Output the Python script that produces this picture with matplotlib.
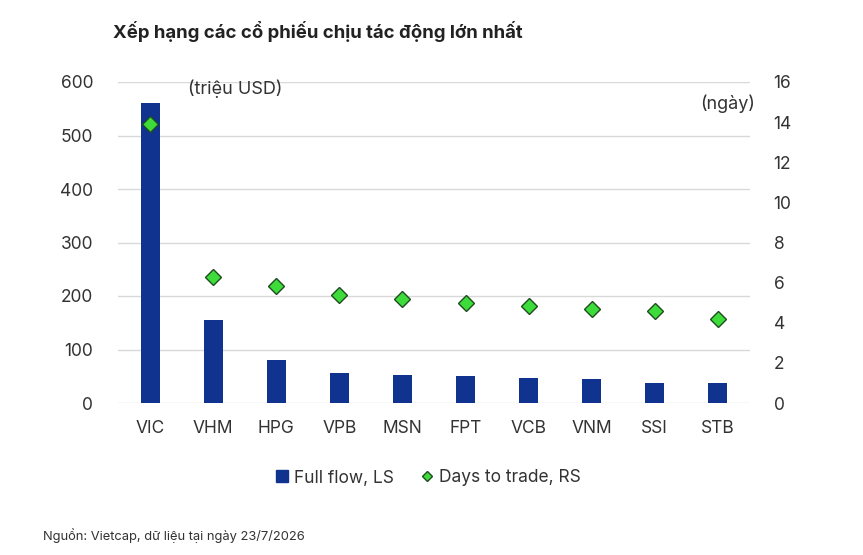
import matplotlib
matplotlib.use("Agg")
import matplotlib.pyplot as plt
from matplotlib.lines import Line2D

plt.rcParams['font.family'] = ['Inter', 'DejaVu Sans']

tickers = ["VIC", "VHM", "HPG", "VPB", "MSN", "FPT", "VCB", "VNM", "SSI", "STB"]
full_flow = [561, 156, 81, 56, 53, 51, 46, 45, 38, 38]
days_to_trade = [13.9, 6.28, 5.82, 5.4, 5.18, 5.0, 4.82, 4.68, 4.6, 4.18]
left_ticks = [0, 100, 200, 300, 400, 500, 600]
right_ticks = [0, 2, 4, 6, 8, 10, 12, 14, 16]

bar_color = "#0f338f"
dia_color = "#3ddc3a"
dia_edge = "#1f4d1f"
txt = "#333333"

fig = plt.figure(figsize=(8.63, 5.55), dpi=100)
ax = fig.add_axes([118/863, 1-403/555, (750-118)/863, (403-82)/555])
ax2 = ax.twinx()

x = list(range(len(tickers)))
ax.bar(x, full_flow, width=0.3, color=bar_color, zorder=2)
ax2.plot(x, days_to_trade, linestyle='none', marker='D', markersize=8.5,
         markerfacecolor=dia_color, markeredgecolor=dia_edge, markeredgewidth=1.0, zorder=3)

ax.set_xlim(-0.51, 9.51)
ax.set_ylim(0, 600)
ax2.set_ylim(0, 16)
ax.set_yticks(left_ticks)
ax2.set_yticks(right_ticks)
ax.set_xticks(x)
ax.set_xticklabels(tickers)
ax.grid(axis='y', color='#d9d9d9', linewidth=1.0, zorder=0)
ax.set_axisbelow(True)
for a in (ax, ax2):
    for s in a.spines.values():
        s.set_visible(False)
    a.tick_params(length=0, labelsize=12.5, colors=txt)
ax.tick_params(axis='y', pad=18)
ax.tick_params(axis='x', pad=12)
ax2.tick_params(axis='y', pad=17)

fig.text(113/863, 1-31/555, "Xếp hạng các cổ phiếu chịu tác động lớn nhất",
         fontsize=13.4, fontweight='bold', color='#222222', va='center', ha='left')
fig.text(188/863, 1-89/555, "(triệu USD)", fontsize=13, color=txt, va='center', ha='left')
fig.text(755/863, 1-104/555, "(ngày)", fontsize=13, color=txt, va='center', ha='right')
fig.text(43/863, 1-536/555, "Nguồn: Vietcap, dữ liệu tại ngày 23/7/2026",
         fontsize=9.3, color=txt, va='center', ha='left')

handles = [Line2D([0], [0], marker='s', linestyle='none', markersize=9,
                  markerfacecolor=bar_color, markeredgecolor=bar_color),
           Line2D([0], [0], marker='D', linestyle='none', markersize=5.5,
                  markerfacecolor=dia_color, markeredgecolor=dia_edge)]
leg = fig.legend(handles, ["Full flow, LS", "Days to trade, RS"], loc='center',
                 bbox_to_anchor=(428/863, 1-478/555), ncol=2, frameon=False,
                 fontsize=12.5, handlelength=0.8, handletextpad=0.3, columnspacing=1.5)
for t in leg.get_texts():
    t.set_color(txt)

fig.savefig("out.png", dpi=100)
